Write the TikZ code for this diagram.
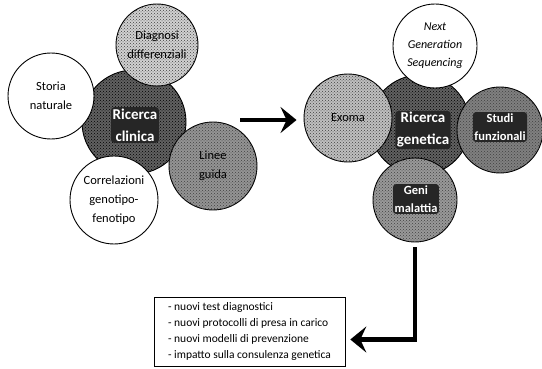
\documentclass[tikz,border=0pt]{standalone}
\usepackage{fontspec}
\setmainfont{Carlito}
\usepackage{tikz}
\usetikzlibrary{arrows.meta, patterns}

\begin{document}
\begin{tikzpicture}[x=1pt, y=-1pt,
    bubble/.style={circle, draw=black, line width=0.9pt, align=center, inner sep=0pt,
        font=\fontsize{12.5}{19}\selectfont},
    hub/.style={bubble, fill=black!62, postaction={pattern=crosshatch dots, pattern color=black}},
    tinted/.style={bubble, fill=#1, postaction={pattern=crosshatch dots, pattern color=black!75}},
    hubtext/.style={fill=black!85, text=white, rounded corners=3pt, inner sep=1.5pt, align=center,
        font=\fontsize{15}{22}\bfseries\selectfont},
    subtext/.style={hubtext, font=\fontsize{12.5}{18}\bfseries\selectfont},
    bigarrow/.style={-{Stealth[length=16pt, width=26pt, inset=6pt]}, line width=4.5pt, black}
]

\useasboundingbox (0,0) rectangle (542,369);

% ============================================================
% LEFT CLUSTER: Ricerca clinica
% ============================================================

\node[hub, minimum size=104] (clin) at (134,122) {};

\node[tinted=black!18, minimum size=82] (dd) at (157,45) {Diagnosi\\differenziali};
\node[bubble, fill=white, minimum size=86] (sn) at (51,96) {Storia\\naturale};
\node[tinted=black!42, minimum size=88] (lg) at (213,166) {Linee\\guida};
\node[bubble, fill=white, minimum size=88] (cg) at (114,200)
    {Correlazioni\\genotipo-\\fenotipo};

\node[hubtext] (clintxt) at (135,125) {Ricerca\\clinica};

% ============================================================
% RIGHT CLUSTER: Ricerca genetica
% ============================================================

\node[hub, minimum size=100] (gen) at (420,125) {};

\node[bubble, fill=white, minimum size=84, font=\fontsize{12}{18}\selectfont\itshape]
    (ngs) at (435,46) {Next\\Generation\\Sequencing};
\node[tinted=black!25, minimum size=88] (exo) at (348,118) {Exoma};
\node[tinted=black!50, minimum size=86] (sf) at (500,130) {};
\node[tinted=black!40, minimum size=84] (gm) at (415,200) {};

\node[hubtext]  (gentxt) at (423,130) {Ricerca\\genetica};
\node[subtext]  (sftxt)  at (500,127) {Studi\\funzionali};
\node[subtext]  (gmtxt)  at (416,199) {Geni\\malattia};

% ============================================================
% OUTCOMES
% ============================================================

\node[draw=black, line width=0.6pt, minimum width=191, minimum height=69, align=left,
    inner sep=0pt, font=\fontsize{11.5}{15.7}\selectfont] (out) at (249.5,331.5)
    {- nuovi test diagnostici\\- nuovi protocolli di presa in carico\\
     - nuovi modelli di prevenzione\\- impatto sulla consulenza genetica};

% arrows
\coordinate (gap) at (240,120);
\draw[bigarrow, shorten >=7pt] (gap) -- (gap -| exo.west);
\draw[bigarrow, shorten <=5pt, shorten >=5pt] (gm.south) |- ([yshift=-8pt]out.east);

\end{tikzpicture}
\end{document}
